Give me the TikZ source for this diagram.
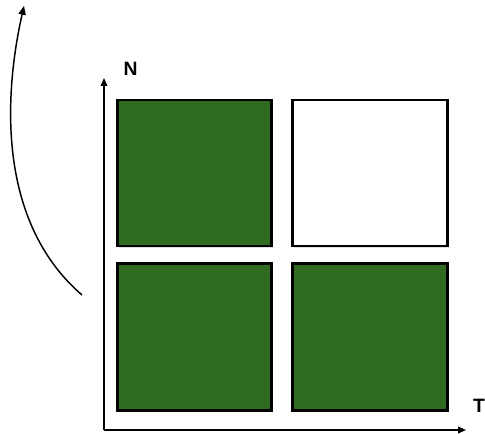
\documentclass[tikz,border=0pt]{standalone}
\usepackage{fontspec}
\setmainfont{Liberation Sans}
\usetikzlibrary{arrows.meta,shadows}
\definecolor{boxgreen}{RGB}{47,107,32}
\begin{document}
\begin{tikzpicture}[x=0.75pt,y=-0.75pt,
  cell/.style={draw=black,line width=2.2pt,inner sep=0pt,
    drop shadow={opacity=0.25,shadow xshift=1.2pt,shadow yshift=-1.2pt}},
  axis/.style={line width=1.1pt,-{Triangle[length=6pt,width=5pt]}},
  lbl/.style={font=\bfseries\fontsize{14.5}{16}\selectfont,inner sep=0pt}]
\useasboundingbox (0,0) rectangle (485,434);
\node[cell,fill=boxgreen,minimum width=116pt,minimum height=109.5pt] (tl) at (194.5,173) {};
\node[cell,fill=white,minimum width=116pt,minimum height=109.5pt] (tr) at (370,173) {};
\node[cell,fill=boxgreen,minimum width=116pt,minimum height=110pt] (bl) at (194.5,337) {};
\node[cell,fill=boxgreen,minimum width=116pt,minimum height=110pt] (br) at (370,337) {};
\coordinate (o) at (104,430);
\coordinate (ytip) at (104,78);
\coordinate (xtip) at (466,430);
\draw[axis] (o) -- (ytip);
\draw[axis] (o) -- (xtip);
\node[lbl] (n) at (130.5,69) {N};
\node[lbl] (t) at (479,406) {T};
\coordinate (cs) at (82,295);
\coordinate (ce) at (24,6);
\draw[line width=1.1pt,-{Triangle[length=6.5pt,width=5.5pt]}] (cs) .. controls (-5,220) and (5,90) .. (ce);
\end{tikzpicture}
\end{document}
